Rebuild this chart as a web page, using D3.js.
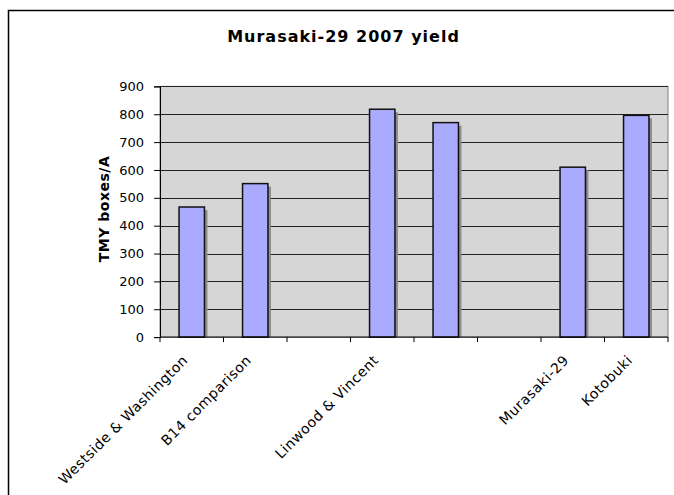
<!DOCTYPE html>
<html><head><meta charset="utf-8">
<script src="https://cdn.jsdelivr.net/npm/d3@7"></script>
<style>body{margin:0;background:#fff;}svg{display:block;font-family:"DejaVu Sans",Verdana,sans-serif;}</style>
</head><body>
<svg id="c" width="674" height="495"></svg>
<script>
const categories = ["Westside & Washington","B14 comparison","","Linwood & Vincent","","","Murasaki-29","Kotobuki"];
const yieldValues = [467, 551, null, 818, 770, null, 610, 796];
const yTicks = [0,100,200,300,400,500,600,700,800,900];
const titleText = "Murasaki-29 2007 yield";
const yLabel = "TMY boxes/A";

const svg = d3.select("#c");
const m = {left:160, right:668, top:86.4, bottom:337.1};

// outer chart border
svg.append("rect").attr("x",8.5).attr("y",10.5).attr("width",700).attr("height",500)
  .attr("fill","#fff").attr("stroke","#000").attr("stroke-width",1.5);

const x = d3.scaleBand().domain(d3.range(categories.length)).range([m.left,m.right]).paddingInner(0).paddingOuter(0);
const y = d3.scaleLinear().domain([0,900]).range([m.bottom,m.top]);

// plot area
svg.append("rect").attr("x",m.left).attr("y",m.top).attr("width",m.right-m.left).attr("height",m.bottom-m.top)
  .attr("fill","#d6d6d6").attr("stroke","#808080").attr("stroke-width",1);

// gridlines
svg.append("g").selectAll("line").data(yTicks.filter(d=>d>0)).join("line")
  .attr("x1",m.left).attr("x2",m.right)
  .attr("y1",d=>Math.round(y(d))+0.5).attr("y2",d=>Math.round(y(d))+0.5)
  .attr("stroke","#222").attr("stroke-width",1);

const bw = x.bandwidth()/2.5;
const data = yieldValues.map((v,i)=>({i,v})).filter(d=>d.v!=null);
// shadows
svg.append("g").selectAll("rect").data(data).join("rect")
  .attr("x",d=>x(d.i)+x.bandwidth()/2-bw/2+3).attr("y",d=>y(d.v)+3)
  .attr("width",bw).attr("height",d=>y(0)-y(d.v)-3)
  .attr("fill","#8c8c8c");
// bars
svg.append("g").selectAll("rect").data(data).join("rect")
  .attr("x",d=>x(d.i)+x.bandwidth()/2-bw/2).attr("y",d=>y(d.v))
  .attr("width",bw).attr("height",d=>y(0)-y(d.v))
  .attr("fill","#aaaaff").attr("stroke","#111").attr("stroke-width",1.5);

// y axis
const ya = d3.axisLeft(y).tickValues(yTicks).tickSize(6).tickPadding(10);
const gy = svg.append("g").attr("transform",`translate(${m.left},0)`).call(ya);
gy.select(".domain").attr("stroke","#000");
gy.selectAll(".tick line").attr("stroke","#000");
gy.selectAll("text").attr("font-size",13).attr("fill","#000").attr("font-family","DejaVu Sans");

// x axis line and ticks
const bounds = d3.range(categories.length+1).map(i=> i<categories.length ? x(i) : m.right);
svg.append("line").attr("x1",m.left).attr("x2",m.right).attr("y1",m.bottom).attr("y2",m.bottom).attr("stroke","#000");
svg.append("g").selectAll("line").data(bounds).join("line")
  .attr("x1",d=>d).attr("x2",d=>d).attr("y1",m.bottom).attr("y2",m.bottom+5).attr("stroke","#000");
svg.append("g").selectAll("text").data(categories.map((c,i)=>({c,i}))).join("text")
  .attr("transform",d=>`translate(${x(d.i)+x.bandwidth()/2-3},${m.bottom+24}) rotate(-45)`)
  .attr("text-anchor","end").attr("font-size",14).attr("letter-spacing",0.5).attr("fill","#000")
  .text(d=>d.c);

// title
svg.append("text").attr("x",343.5).attr("y",41.5).attr("text-anchor","middle")
  .attr("font-size",16).attr("letter-spacing",1).attr("font-weight","bold").text(titleText);
// y label
svg.append("text").attr("transform",`translate(108.5,209) rotate(-90)`)
  .attr("text-anchor","middle").attr("font-size",14).attr("letter-spacing",0.5).attr("font-weight","bold").text(yLabel);
</script>
</body></html>
